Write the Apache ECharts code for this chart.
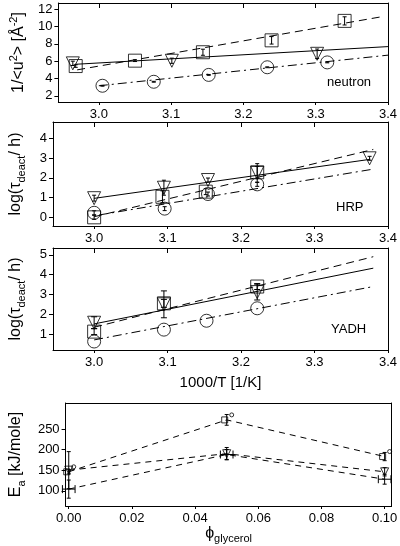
<!DOCTYPE html>
<html><head><meta charset="utf-8">
<script src="https://cdn.jsdelivr.net/npm/echarts@6/dist/echarts.min.js"></script>
<style>html,body{margin:0;padding:0;background:#fff}#c{width:400px;height:546px}</style>
</head><body><div id="c"></div>
<script>
// ---------- Panel 1 : neutron ----------
const p1SqX = [2.968, 3.050, 3.144, 3.239, 3.340];
const p1SqY = [5.44, 6.06, 7.03, 8.40, 10.64];
const p1SqErr = [0.15, 0.1, 0.35, 0.43, 0.47];
const p1TriX = [2.964, 3.101, 3.302];
const p1TriY = [5.75, 6.05, 6.85];
const p1TriErr = [0.25, 0.3, 0.55];
const p1CirX = [3.005, 3.076, 3.152, 3.233, 3.316];
const p1CirY = [3.17, 3.63, 4.42, 5.30, 5.86];
const p1CirErr = [0.05, 0.05, 0.05, 0.05, 0.05];
const p1SqFit = [[2.970, 5.0], [3.390, 11.1]];
const p1TriFit = [[2.967, 5.64], [3.400, 7.68]];
const p1CirFit = [[3.000, 3.17], [3.403, 6.72]];
// ---------- Panel 2 : HRP ----------
const p2TriX = [3.000, 3.095, 3.155, 3.222, 3.375];
const p2TriY = [0.97, 1.50, 1.89, 2.25, 2.99];
const p2TriErr = [0.15, 0.38, 0.1, 0.47, 0.1];
const p2SqX = [3.000, 3.093, 3.152, 3.222];
const p2SqY = [0.00, 1.04, 1.30, 2.28];
const p2SqErr = [0.1, 0.3, 0.15, 0.3];
const p2CirX = [3.000, 3.096, 3.155, 3.222];
const p2CirY = [0.23, 0.44, 1.18, 1.67];
const p2CirErr = [0.1, 0.1, 0.1, 0.1];
const p2TriFit = [[3.000, 0.96], [3.376, 2.94]];
const p2SqFit = [[3.000, 0.03], [3.380, 3.44]];
const p2CirFit = [[3.007, 0.12], [3.378, 2.43]];
// ---------- Panel 3 : YADH ----------
const p3TriX = [3.000, 3.095, 3.222];
const p3TriY = [1.57, 2.50, 3.12];
const p3TriErr = [0.3, 0.68, 0.4];
const p3SqX = [3.000, 3.095, 3.222];
const p3SqY = [1.12, 2.55, 3.40];
const p3SqErr = [0.15, 0.2, 0.15];
const p3CirX = [3.000, 3.095, 3.153, 3.222];
const p3CirY = [0.62, 1.22, 1.67, 2.30];
const p3TriFit = [[3.000, 1.51], [3.380, 4.33]];
const p3SqFit = [[3.000, 1.34], [3.380, 4.91]];
const p3CirFit = [[3.000, 0.70], [3.380, 3.40]];
// ---------- Panel 4 : activation energies ----------
const p4X = [0.00, 0.05, 0.10];
const p4TopY = [146, 272, 183];
const p4TopErr = [5, 13, 10];
const p4MidY = [150, 190, 146];
const p4MidErr = [45, 15, 10];
const p4BotY = [104, 188, 128];
const p4BotErr = [22, 12, 12];
const p4BotXErr = [0.002, 0.002, 0.002];
// ---------- ticks ----------
const tTicks = [3.0, 3.1, 3.2, 3.3, 3.4];
const p1YTicks = [2, 4, 6, 8, 10, 12];
const p2YTicks = [0, 1, 2, 3, 4];
const p3YTicks = [1, 2, 3, 4, 5];
const p4XTicks = [0.00, 0.02, 0.04, 0.06, 0.08, 0.10];
const p4YTicks = [100, 150, 200, 250];

const FONT = 'Liberation Sans, Arial, sans-serif';
const zip2 = (xs, ys) => xs.map((x, i) => [x, ys[i]]);
const zipErr = (xs, ys, es) => xs.map((x, i) => [x, ys[i] - es[i], ys[i] + es[i]]);

const grids = [
  {left: 48, right: 12, top: 3, height: 99},
  {left: 48, right: 12, top: 122, height: 104},
  {left: 48, right: 12, top: 248, height: 102},
  {left: 52, right: 6, top: 403, height: 103}
];
const xr = [[2.944, 3.4], [2.944, 3.4], [2.944, 3.4], [-0.001, 0.1022]];
const yr = [[1.3, 12.7], [-0.44, 4.83], [0.19, 5.35], [63, 313]];
const xt = [tTicks, tTicks, tTicks, p4XTicks];
const yt = [p1YTicks, p2YTicks, p3YTicks, p4YTicks];
const xfmt = [v => v.toFixed(1), v => v.toFixed(1), v => v.toFixed(1), v => v.toFixed(2)];

const rich = {
  n: {fontSize: 16, fontFamily: FONT, color: '#000', lineHeight: 22, verticalAlign: 'middle'},
  sup: {fontSize: 11, fontFamily: FONT, color: '#000', verticalAlign: 'top', lineHeight: 22},
  sub: {fontSize: 11, fontFamily: FONT, color: '#000', verticalAlign: 'bottom', lineHeight: 22}
};
const yNames = [
  '{n|1/<u}{sup|2}{n|> [Å}{sup|-2}{n|]}',
  '{n|log(τ}{sub|deact}{n|/ h)}',
  '{n|log(τ}{sub|deact}{n|/ h)}',
  '{n|E}{sub|a}{n| [kJ/mole]}'
];
const yGaps = [24, 26, 26, 30];

const xAxes = [], yAxes = [];
for (let i = 0; i < 4; i++) {
  const bottom = {
    gridIndex: i, type: 'value', position: 'bottom', min: xr[i][0], max: xr[i][1],
    axisLine: {show: true, onZero: false, lineStyle: {color: '#000', width: 1}},
    axisTick: {show: true, inside: false, length: 3, customValues: xt[i], lineStyle: {color: '#000'}},
    axisLabel: {customValues: xt[i], formatter: xfmt[i], color: '#000', fontSize: 13, fontFamily: FONT, margin: 6},
    splitLine: {show: false}
  };
  if (i === 2) {
    bottom.name = '1000/T [1/K]'; bottom.nameLocation = 'middle'; bottom.nameGap = 25;
    bottom.nameTextStyle = {fontSize: 15, fontFamily: FONT, color: '#000'};
  }
  if (i === 3) {
    bottom.name = '{n|ϕ}{sub|glycerol}'; bottom.nameLocation = 'middle'; bottom.nameGap = 10;
    bottom.nameTextStyle = {rich: rich};
  }
  xAxes.push(bottom);
  xAxes.push({
    gridIndex: i, type: 'value', position: 'top', min: xr[i][0], max: xr[i][1],
    axisLine: {show: true, onZero: false, lineStyle: {color: '#000', width: 1}},
    axisTick: {show: i < 3, inside: true, length: 5, customValues: xt[i], lineStyle: {color: '#000'}},
    axisLabel: {show: false}, splitLine: {show: false}
  });
  yAxes.push({
    gridIndex: i, type: 'value', position: 'left', min: yr[i][0], max: yr[i][1],
    axisLine: {show: true, onZero: false, lineStyle: {color: '#000', width: 1}},
    axisTick: {show: true, inside: false, length: 4, customValues: yt[i], lineStyle: {color: '#000'}},
    axisLabel: {customValues: yt[i], color: '#000', fontSize: 13, fontFamily: FONT, margin: 6},
    splitLine: {show: false},
    name: yNames[i], nameLocation: 'middle', nameRotate: 90, nameGap: yGaps[i],
    nameTextStyle: {rich: rich}
  });
  yAxes.push({
    gridIndex: i, type: 'value', position: 'right', min: yr[i][0], max: yr[i][1],
    axisLine: {show: true, onZero: false, lineStyle: {color: '#000', width: 1}},
    axisTick: {show: false}, axisLabel: {show: false}, splitLine: {show: false}
  });
}

function errV(cap) {
  return function (params, api) {
    const x = api.value(0), lo = api.value(1), hi = api.value(2);
    const a = api.coord([x, lo]), b = api.coord([x, hi]);
    const st = {stroke: '#000', lineWidth: 1};
    return {type: 'group', children: [
      {type: 'line', shape: {x1: a[0], y1: a[1], x2: b[0], y2: b[1]}, style: st},
      {type: 'line', shape: {x1: a[0] - cap, y1: a[1], x2: a[0] + cap, y2: a[1]}, style: st},
      {type: 'line', shape: {x1: b[0] - cap, y1: b[1], x2: b[0] + cap, y2: b[1]}, style: st}
    ]};
  };
}
function errH(cap) {
  return function (params, api) {
    const y = api.value(0), lo = api.value(1), hi = api.value(2);
    const a = api.coord([lo, y]), b = api.coord([hi, y]);
    const st = {stroke: '#000', lineWidth: 1};
    return {type: 'group', children: [
      {type: 'line', shape: {x1: a[0], y1: a[1], x2: b[0], y2: b[1]}, style: st},
      {type: 'line', shape: {x1: a[0], y1: a[1] - cap, x2: a[0], y2: a[1] + cap}, style: st},
      {type: 'line', shape: {x1: b[0], y1: b[1] - cap, x2: b[0], y2: b[1] + cap}, style: st}
    ]};
  };
}

const series = [];
const DASH = [8, 5], DASHDOT = [9, 4, 2, 4];
function fit(i, data, type) {
  series.push({type: 'line', xAxisIndex: i * 2, yAxisIndex: i * 2, data: data, showSymbol: false, silent: true,
    lineStyle: {color: '#000', width: 1, type: type}});
}
function marks(i, data, symbol, size, rot, offset) {
  series.push({type: 'scatter', xAxisIndex: i * 2, yAxisIndex: i * 2, data: data, symbol: symbol,
    symbolSize: size, symbolRotate: rot || 0, symbolOffset: offset || [0, 0], silent: true,
    itemStyle: {color: 'rgba(0,0,0,0)', borderColor: '#000', borderWidth: 1}});
}
function errs(i, data, cap) {
  series.push({type: 'custom', xAxisIndex: i * 2, yAxisIndex: i * 2, data: data, renderItem: errV(cap), silent: true});
}

// Panel 1
fit(0, p1SqFit, DASH); fit(0, p1TriFit, 'solid'); fit(0, p1CirFit, DASHDOT);
marks(0, zip2(p1SqX, p1SqY), 'rect', 13); marks(0, zip2(p1TriX, p1TriY), 'triangle', 13, 180);
marks(0, zip2(p1CirX, p1CirY), 'circle', 13);
errs(0, zipErr(p1SqX, p1SqY, p1SqErr), 2); errs(0, zipErr(p1TriX, p1TriY, p1TriErr), 2);
errs(0, zipErr(p1CirX, p1CirY, p1CirErr), 2);
// Panel 2
fit(1, p2SqFit, DASH); fit(1, p2TriFit, 'solid'); fit(1, p2CirFit, DASHDOT);
marks(1, zip2(p2SqX, p2SqY), 'rect', 13); marks(1, zip2(p2TriX, p2TriY), 'triangle', 13, 180);
marks(1, zip2(p2CirX, p2CirY), 'circle', 13);
errs(1, zipErr(p2SqX, p2SqY, p2SqErr), 2); errs(1, zipErr(p2TriX, p2TriY, p2TriErr), 2);
errs(1, zipErr(p2CirX, p2CirY, p2CirErr), 2);
// Panel 3
fit(2, p3SqFit, DASH); fit(2, p3TriFit, 'solid'); fit(2, p3CirFit, DASHDOT);
marks(2, zip2(p3SqX, p3SqY), 'rect', 13); marks(2, zip2(p3TriX, p3TriY), 'triangle', 13, 180);
marks(2, zip2(p3CirX, p3CirY), 'circle', 13);
errs(2, zipErr(p3SqX, p3SqY, p3SqErr), 3); errs(2, zipErr(p3TriX, p3TriY, p3TriErr), 3);
// Panel 4
fit(3, zip2(p4X, p4TopY), [6, 5]); fit(3, zip2(p4X, p4MidY), [6, 5]); fit(3, zip2(p4X, p4BotY), [6, 5]);
marks(3, zip2(p4X, p4TopY), 'rect', 6, 0, [-2, 0]); marks(3, zip2(p4X, p4TopY), 'circle', 4, 0, [5, -5]);
marks(3, zip2(p4X, p4MidY), 'triangle', 8, 180);
errs(3, zipErr(p4X, p4TopY, p4TopErr), 2); errs(3, zipErr(p4X, p4MidY, p4MidErr), 2);
errs(3, zipErr(p4X, p4BotY, p4BotErr), 2);
series.push({type: 'custom', xAxisIndex: 6, yAxisIndex: 6, silent: true, renderItem: errH(4),
  encode: {x: [1, 2], y: 0},
  data: p4X.map((x, i) => [p4BotY[i], x - p4BotXErr[i], x + p4BotXErr[i]])});

const chart = echarts.init(document.getElementById('c'), null, {renderer: 'canvas'});
chart.setOption({
  animation: false,
  backgroundColor: '#fff',
  grid: grids,
  xAxis: xAxes,
  yAxis: yAxes,
  series: series,
  graphic: [
    {type: 'text', left: 327, top: 76, style: {text: 'neutron', font: '13px ' + FONT, fill: '#000'}},
    {type: 'text', left: 336, top: 201, style: {text: 'HRP', font: '13px ' + FONT, fill: '#000'}},
    {type: 'text', left: 331, top: 323, style: {text: 'YADH', font: '13px ' + FONT, fill: '#000'}}
  ]
});
</script>
</body></html>
